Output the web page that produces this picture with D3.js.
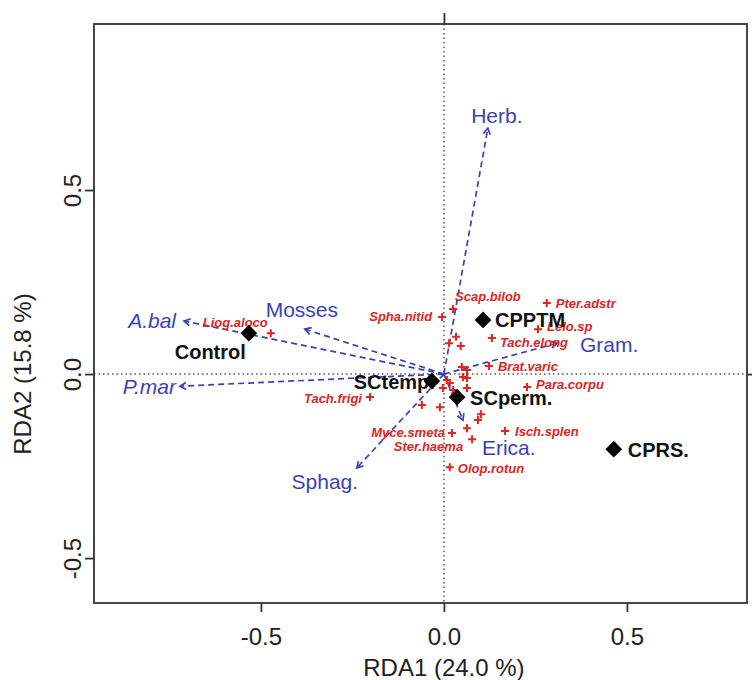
<!DOCTYPE html>
<html>
<head>
<meta charset="utf-8">
<script src="https://cdn.jsdelivr.net/npm/d3@7"></script>
<style>
  body { margin: 0; background: #fff; }
  text { font-family: "Liberation Sans", Arial, sans-serif; }
</style>
</head>
<body>
<svg width="753" height="680"></svg>
<script>
// sites (black diamonds)
var sites = ["Control", "CPPTM", "SCtemp.", "SCperm.", "CPRS."];
var siteX = [-0.533, 0.107, -0.033, 0.036, 0.464];
var siteY = [0.111, 0.147, -0.019, -0.063, -0.204];

// environmental vectors (blue arrows)
var envNames = ["Herb.", "Gram.", "Mosses", "A.bal", "P.mar", "Sphag.", "Erica."];
var envX = [0.120, 0.309, -0.380, -0.710, -0.721, -0.238, 0.052];
var envY = [0.668, 0.084, 0.122, 0.144, -0.033, -0.255, -0.125];

// species (red crosses), "" = unlabelled
var spNames = ["Liog.aloco", "Spha.nitid", "Scap.bilob", "Pter.adstr", "Lelo.sp", "Tach.elong",
               "Brat.varic", "Para.corpu", "Tach.frigi", "Myce.smeta", "Ster.haema", "Isch.splen",
               "Olop.rotun", "", "", "", "", "", "", "", "", "", "", "", "", "", "", "", "", ""];
var spX = [-0.473, -0.005, 0.025, 0.281, 0.257, 0.131, 0.123, 0.227, -0.202, 0.022, 0.077, 0.167,
           0.016, 0.033, 0.046, 0.014, 0.049, 0.063, 0.052, 0.063, 0.008, 0.016, -0.003, 0.025,
           0.063, -0.060, -0.011, 0.093, 0.101, 0.063];
var spY = [0.111, 0.155, 0.177, 0.193, 0.122, 0.098, 0.022, -0.035, -0.0625, -0.160, -0.177, -0.155,
           -0.253, 0.101, 0.076, 0.084, 0.019, 0.011, -0.008, -0.011, -0.016, -0.024, -0.038, -0.043,
           -0.038, -0.084, -0.090, -0.125, -0.109, -0.147];

var xTicks = [-0.5, 0, 0.5];
var yTicks = [-0.5, 0, 0.5];

// label placement (pixels): [dx, dy, anchor]
var spLab = {
  "Liog.aloco": [-3, -11, "end"], "Spha.nitid": [-10, -1, "end"], "Scap.bilob": [2, -12, "start"],
  "Pter.adstr": [9, 0, "start"], "Lelo.sp": [9, -3, "start"], "Tach.elong": [8, 4, "start"],
  "Brat.varic": [9, 0, "start"], "Para.corpu": [9, -2, "start"], "Tach.frigi": [-8, 1, "end"],
  "Myce.smeta": [-7, 0, "end"], "Ster.haema": [-9, 7, "end"], "Isch.splen": [10, 0, "start"],
  "Olop.rotun": [8, 1, "start"]
};
var siteLab = {
  "Control": [-3, 19, "end"], "CPPTM": [12, 0, "start"], "SCtemp.": [3, 1, "end"],
  "SCperm.": [13, 1, "start"], "CPRS.": [14, 1, "start"]
};
var envLab = {
  "Herb.": [9, -13, "middle"], "Gram.": [23, 2, "start"], "Mosses": [-3, -19, "middle"],
  "A.bal": [-8, 0, "end"], "P.mar": [-4, 0, "end"], "Sphag.": [-32, 14, "middle"],
  "Erica.": [19, 28, "start"]
};

var red = "#e3231c", blue = "#3a42b8";

var svg = d3.select("svg");
var x = d3.scaleLinear().domain([-0.956, 0.828]).range([94, 747]);
var y = d3.scaleLinear().domain([-0.622, 0.951]).range([603, 24]);
var fmt = function(d) { return d.toFixed(1); };

// zero lines
svg.append("line").attr("x1", x(0)).attr("x2", x(0)).attr("y1", y.range()[1]).attr("y2", y.range()[0])
   .attr("stroke", "#555").attr("stroke-width", 1.5).attr("stroke-dasharray", "1.5,3");
svg.append("line").attr("x1", x.range()[0]).attr("x2", x.range()[1]).attr("y1", y(0)).attr("y2", y(0))
   .attr("stroke", "#555").attr("stroke-width", 1.5).attr("stroke-dasharray", "1.5,3");

// axes
var gx = svg.append("g").attr("transform", "translate(0," + y.range()[0] + ")")
  .call(d3.axisBottom(x).tickValues(xTicks).tickFormat(fmt).tickSize(9).tickSizeOuter(0));
gx.selectAll("text").attr("y", 25).style("font-size", "24px").attr("fill", "#222");
var gy = svg.append("g").attr("transform", "translate(" + x.range()[0] + ",0)")
  .call(d3.axisLeft(y).tickValues(yTicks).tickFormat(fmt).tickSize(9).tickSizeOuter(0));
gy.selectAll("text").attr("transform", "rotate(-90)").attr("x", 0).attr("y", -13).attr("dy", 0)
  .attr("text-anchor", "middle").style("font-size", "24px").attr("fill", "#222");
svg.append("g").attr("transform", "translate(0," + y.range()[1] + ")")
  .call(d3.axisTop(x).tickValues([0]).tickFormat("").tickSize(11).tickSizeOuter(0));
svg.append("g").attr("transform", "translate(" + x.range()[1] + ",0)")
  .call(d3.axisRight(y).tickValues([0]).tickFormat("").tickSize(5).tickSizeOuter(0));
svg.selectAll(".domain").remove();
svg.selectAll(".tick line").attr("stroke", "#333").attr("stroke-width", 1.8);

svg.append("rect").attr("x", x.range()[0]).attr("y", y.range()[1])
   .attr("width", x.range()[1] - x.range()[0]).attr("height", y.range()[0] - y.range()[1])
   .attr("fill", "none").attr("stroke", "#333").attr("stroke-width", 1.8);

svg.append("text").attr("x", x(0)).attr("y", 676).attr("text-anchor", "middle")
   .style("font-size", "24px").attr("fill", "#222").text("RDA1 (24.0 %)");
svg.append("text").attr("transform", "translate(31," + y(0) + ") rotate(-90)")
   .attr("text-anchor", "middle").style("font-size", "24px").attr("fill", "#222").text("RDA2 (15.8 %)");

// arrows
var env = envNames.map(function(n, i) { return {name: n, x: envX[i], y: envY[i]}; });
var ag = svg.append("g");
env.forEach(function(d) {
  var x0 = x(0), y0 = y(0), x1 = x(d.x), y1 = y(d.y);
  ag.append("line").attr("x1", x0).attr("y1", y0).attr("x2", x1).attr("y2", y1)
    .attr("stroke", blue).attr("stroke-width", 1.7).attr("stroke-dasharray", "6,4");
  var a = Math.atan2(y1 - y0, x1 - x0), L = 7, w = Math.PI / 6;
  ag.append("path")
    .attr("d", "M" + (x1 - L * Math.cos(a - w)) + "," + (y1 - L * Math.sin(a - w)) +
               "L" + x1 + "," + y1 +
               "L" + (x1 - L * Math.cos(a + w)) + "," + (y1 - L * Math.sin(a + w)))
    .attr("fill", "none").attr("stroke", blue).attr("stroke-width", 1.7);
});

// species
var sp = spNames.map(function(n, i) { return {name: n, x: spX[i], y: spY[i]}; });
svg.append("g").selectAll("path").data(sp).join("path")
  .attr("d", function(d) {
    var cx = x(d.x), cy = y(d.y), h = 4;
    return "M" + (cx - h) + "," + cy + "H" + (cx + h) + "M" + cx + "," + (cy - h) + "V" + (cy + h);
  })
  .attr("stroke", red).attr("stroke-width", 2);
svg.append("g").selectAll("text").data(sp.filter(function(d) { return d.name; })).join("text")
  .attr("x", function(d) { return x(d.x) + spLab[d.name][0]; })
  .attr("y", function(d) { return y(d.y) + spLab[d.name][1]; })
  .attr("dy", "0.35em")
  .attr("text-anchor", function(d) { return spLab[d.name][2]; })
  .style("font-size", "13px").style("font-weight", "bold").style("font-style", "italic")
  .attr("fill", red).text(function(d) { return d.name; });

// sites
var st = sites.map(function(n, i) { return {name: n, x: siteX[i], y: siteY[i]}; });
svg.append("g").selectAll("text").data(st).join("text")
  .attr("x", function(d) { return x(d.x) + siteLab[d.name][0]; })
  .attr("y", function(d) { return y(d.y) + siteLab[d.name][1]; })
  .attr("dy", "0.35em")
  .attr("text-anchor", function(d) { return siteLab[d.name][2]; })
  .style("font-size", "20px").style("font-weight", "bold")
  .attr("fill", "#111").text(function(d) { return d.name; });
svg.append("g").selectAll("path").data(st).join("path")
  .attr("d", d3.symbol(d3.symbolSquare, 140))
  .attr("transform", function(d) { return "translate(" + x(d.x) + "," + y(d.y) + ") rotate(45)"; })
  .attr("fill", "#000");

// vector labels
svg.append("g").selectAll("text").data(env).join("text")
  .attr("x", function(d) { return x(d.x) + envLab[d.name][0]; })
  .attr("y", function(d) { return y(d.y) + envLab[d.name][1]; })
  .attr("dy", "0.35em")
  .attr("text-anchor", function(d) { return envLab[d.name][2]; })
  .style("font-size", "21px")
  .style("font-style", function(d) { return (d.name === "A.bal" || d.name === "P.mar") ? "italic" : "normal"; })
  .attr("fill", blue).text(function(d) { return d.name; });
</script>
</body>
</html>
